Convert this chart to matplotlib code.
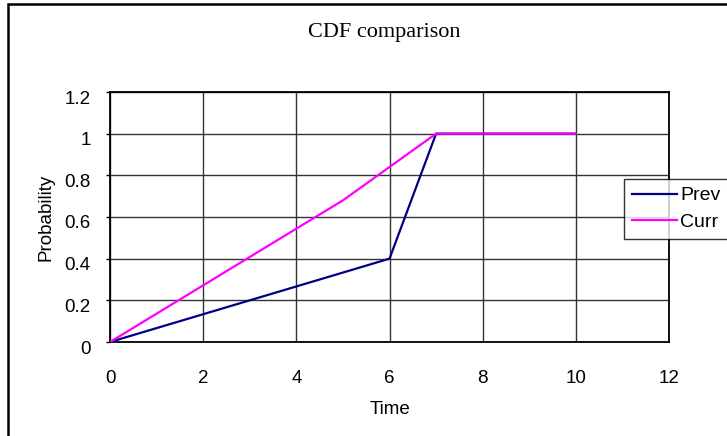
import matplotlib
matplotlib.use("Agg")
import matplotlib.pyplot as plt
import matplotlib.patches as mpatches
import matplotlib.transforms as mtransforms

# data
prev_time = [0, 6, 7, 10]
prev_prob = [0, 0.4, 1, 1]
curr_time = [0, 5, 7, 10]
curr_prob = [0, 0.68, 1, 1]
x_ticks = [0, 2, 4, 6, 8, 10, 12]
y_ticks = [0, 0.2, 0.4, 0.6, 0.8, 1, 1.2]
y_tick_labels = ["0", "0.2", "0.4", "0.6", "0.8", "1", "1.2"]

plt.rcParams['font.family'] = ['Liberation Sans', 'DejaVu Sans']

W, H = 727, 436
fig = plt.figure(figsize=(W / 100, H / 100), dpi=100)
ax = fig.add_axes([110 / W, 1 - 342 / H, 559 / W, 250 / H])

ax.plot(prev_time, prev_prob, color='#000080', lw=1.6, label='Prev', zorder=3)
ax.plot(curr_time, curr_prob, color='#ff00ff', lw=1.6, label='Curr', zorder=3)

ax.set_xlim(0, 12)
ax.set_ylim(0, 1.2)
ax.set_xticks(x_ticks)
ax.set_yticks(y_ticks)
ax.set_yticklabels(y_tick_labels)
ax.tick_params(labelsize=13.5, direction='out', length=3, width=1, color='black')
ax.tick_params(axis='y', pad=11)
ax.tick_params(axis='x', length=0, pad=20)
ax.grid(True, color='#333333', lw=1)
for s in ax.spines.values():
    s.set_linewidth(1.3)
    s.set_color('black')

# y labels sit a little below their gridlines in the reference
shift = mtransforms.ScaledTranslation(0, -0.05, fig.dpi_scale_trans)
for lab in ax.get_yticklabels():
    lab.set_transform(lab.get_transform() + shift)

ax.set_xlabel('Time', fontsize=13.5, labelpad=10)
ax.set_ylabel('Probability', fontsize=13.5, labelpad=7)

fig.text(384 / W, 1 - 32 / H, 'CDF comparison', ha='center', va='center',
         fontsize=16, family='Liberation Serif')

leg = ax.legend(loc='upper left', bbox_to_anchor=(624 / W, 1 - 179 / H),
                bbox_transform=fig.transFigure, fontsize=14, frameon=True,
                fancybox=False, handlelength=2.3, handletextpad=0.2,
                borderpad=0.4, labelspacing=0.45, borderaxespad=0)
leg.get_frame().set_edgecolor('black')
leg.get_frame().set_linewidth(1)

# outer chart border (cut off on the right and bottom)
fig.patches.append(mpatches.Rectangle((8 / W, -0.1), 1.2, 1 - 4 / H + 0.1,
                                      transform=fig.transFigure, fill=False,
                                      edgecolor='black', lw=1.8))

fig.savefig('out.png', dpi=100)
